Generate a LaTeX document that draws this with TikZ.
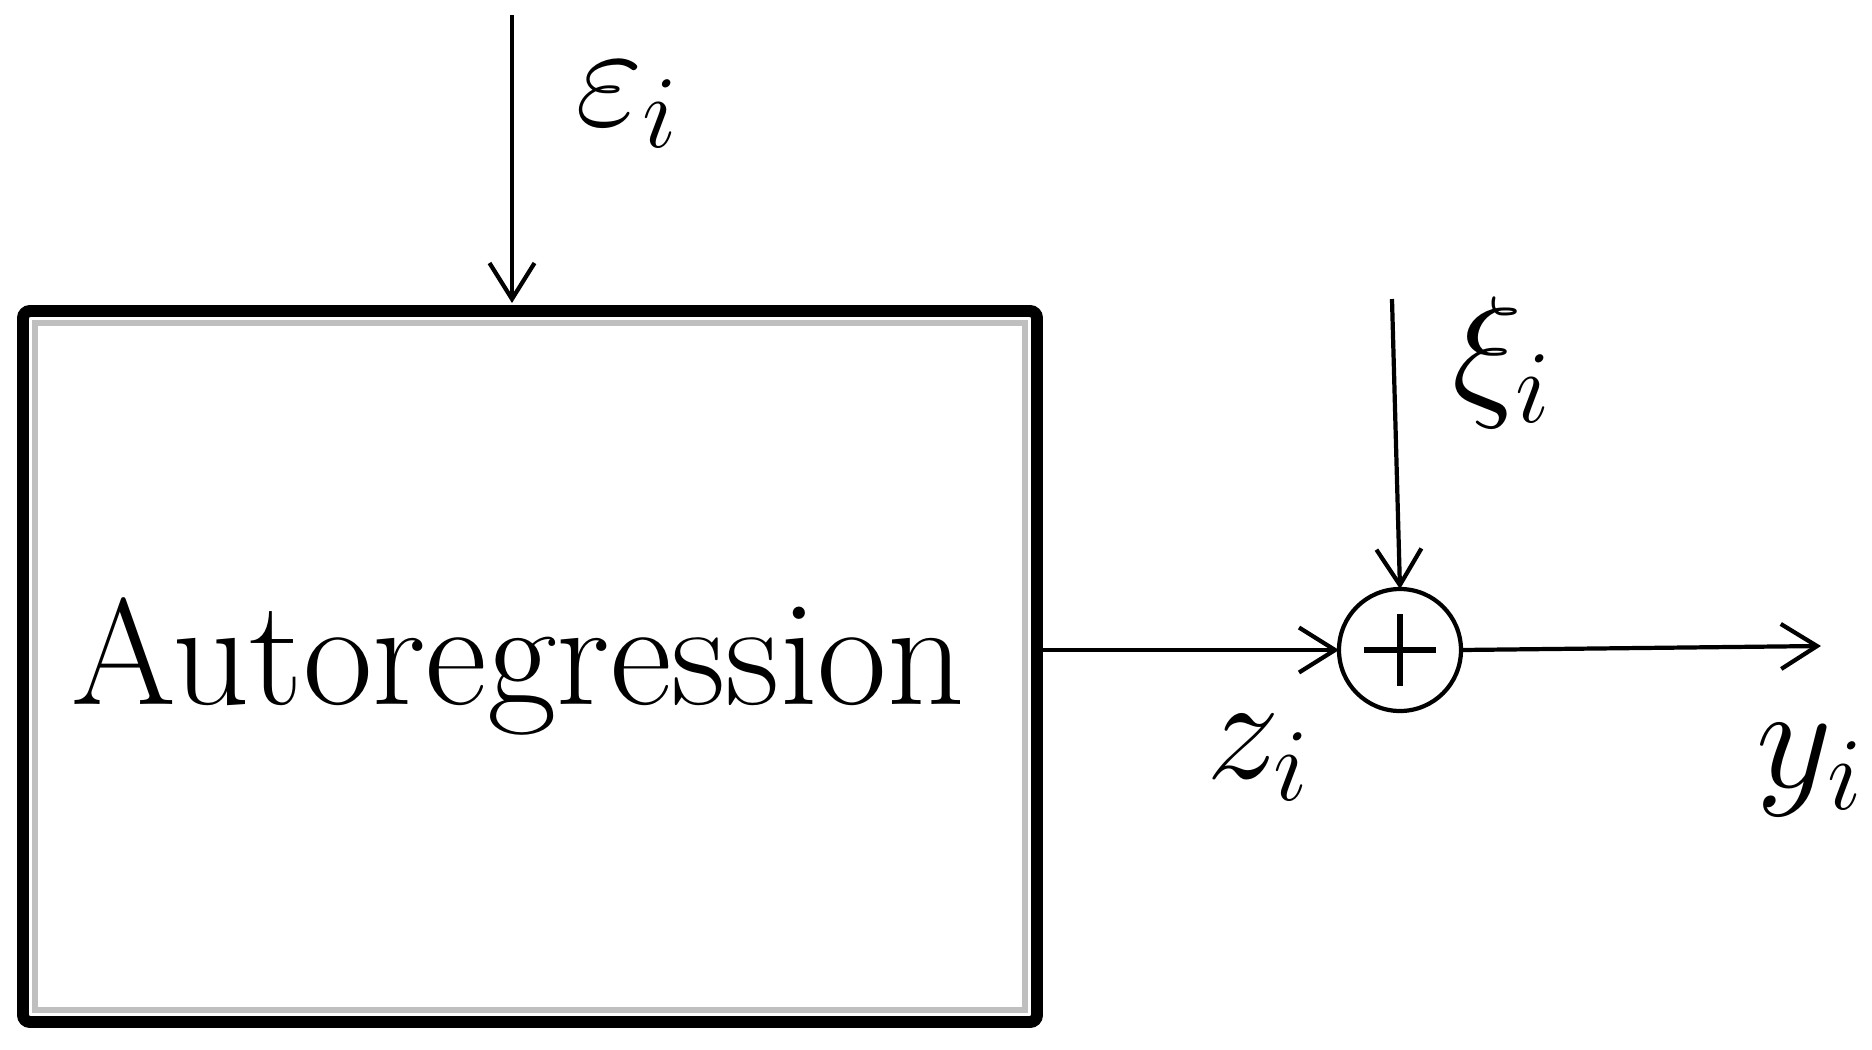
\RequirePackage{fix-cm}
\documentclass[tikz,border=0pt]{standalone}
\usepackage{amsmath,amssymb}
\usepackage{tikz}
\usetikzlibrary{positioning, arrows.meta}

\begin{document}
\begin{tikzpicture}[block/.style={rectangle, draw, line width=3.4pt, rounded corners=2pt, outer sep=0pt, inner sep=0pt, minimum width=10.14cm, minimum height=7.11cm, font=\fontsize{43}{48}\selectfont},
    sumpoint/.style={circle, draw, line width=1.2pt, outer sep=0pt, minimum size=1.22cm},
    signal/.style={inner sep=0pt, font=\fontsize{42}{50}\selectfont},
    flow/.style={line width=1.2pt, -{Straight Barb[length=0.36cm, width=0.45cm, line width=1.2pt]}}]
    \useasboundingbox (0,0) rectangle (18.72,-10.5);

    \node[block] (ar) at (5.30,-6.665) {\hspace*{-0.24cm}\raisebox{0.1cm}{Autoregression}};
    \draw[gray!50, line width=1.6pt] ([shift={(0.12,-0.12)}]ar.north west) rectangle ([shift={(-0.12,0.12)}]ar.south east);
    \node[sumpoint] (sum) at (14.00,-6.50) {};
    \draw[line width=1.6pt] ([yshift=0.36cm]sum.center)--([yshift=-0.36cm]sum.center);
    \draw[line width=1.6pt] ([xshift=-0.36cm]sum.center)--([xshift=0.36cm]sum.center);

    \coordinate (epsin) at (5.12,-0.15);
    \coordinate (xiin) at (13.92,-2.99);
    \coordinate (yout) at (18.21,-6.46);

    \node[signal] (eps) at (6.27,-1.05) {$\varepsilon_i$};
    \node[signal] (xi) at (15.02,-3.63) {$\xi_i$};
    \node[signal] (z) at (12.58,-7.58) {$z_i$};
    \node[signal] (y) at (18.10,-7.70) {$y_i$};

    \draw[flow, shorten >=0.08cm](epsin)--(epsin |- ar.north);
    \draw[flow](xiin)--(sum.north);
    \draw[flow](ar.east |- sum)--(sum.west);
    \draw[flow](sum.east)--(yout);
\end{tikzpicture}
\end{document}
